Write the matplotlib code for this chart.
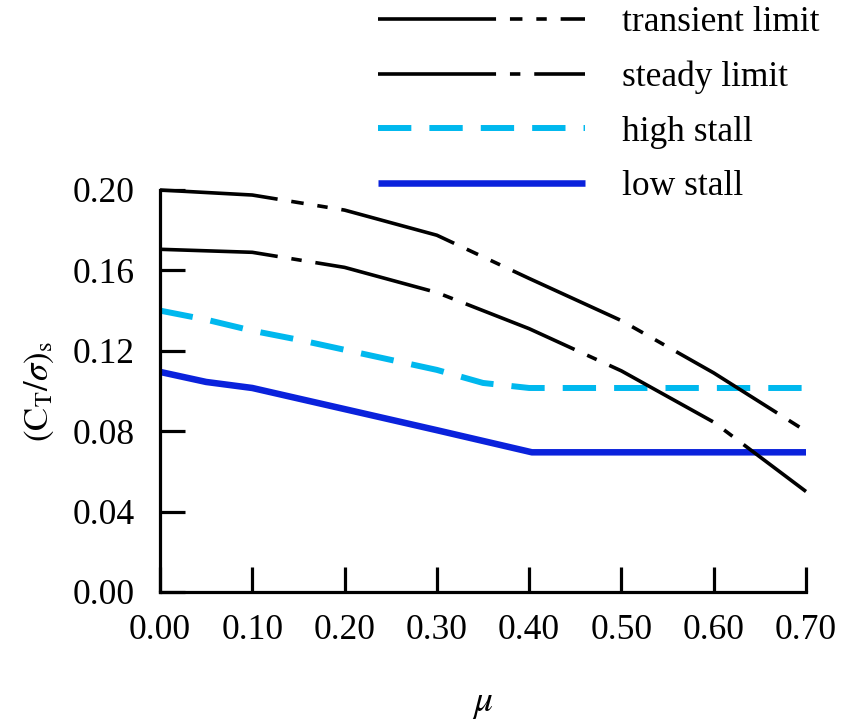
import matplotlib
matplotlib.use("Agg")
import matplotlib.pyplot as plt

# values
mu_transient = [0.0, 0.1, 0.2, 0.3, 0.4, 0.5, 0.6, 0.7]
ct_transient = [0.200, 0.1975, 0.190, 0.1775, 0.156, 0.135, 0.109, 0.080]

mu_steady = [0.0, 0.1, 0.2, 0.3, 0.4, 0.5, 0.6, 0.7]
ct_steady = [0.1705, 0.169, 0.1615, 0.149, 0.131, 0.110, 0.0845, 0.050]

mu_high = [0.0, 0.05, 0.1, 0.15, 0.2, 0.25, 0.3, 0.35, 0.4, 0.7]
ct_high = [0.140, 0.1355, 0.130, 0.1255, 0.1205, 0.1155, 0.1105, 0.104, 0.1015, 0.1015]

mu_low = [0.0, 0.05, 0.1, 0.2, 0.3, 0.403, 0.7]
ct_low = [0.1095, 0.1045, 0.1015, 0.091, 0.0805, 0.0695, 0.0695]

xticks = [0.0, 0.1, 0.2, 0.3, 0.4, 0.5, 0.6, 0.7]
yticks = [0.0, 0.04, 0.08, 0.12, 0.16, 0.20]

plt.rcParams['font.family'] = ['Liberation Serif', 'DejaVu Serif']
plt.rcParams['mathtext.fontset'] = 'stix'
plt.rcParams['lines.scale_dashes'] = False

fs = 25.5

fig = plt.figure(figsize=(8.41, 7.23), dpi=100)
ax = fig.add_axes([160 / 841, 1 - 592 / 723, 646 / 841, 402 / 723])

low, = ax.plot(mu_low, ct_low, color='#0a22dc', lw=4.7, label='low stall',
               clip_on=False, solid_capstyle='butt')
high, = ax.plot(mu_high, ct_high, color='#00b8ee', lw=4.3, label='high stall',
                clip_on=False, dashes=(24, 13), dash_capstyle='butt')
steady, = ax.plot(mu_steady, ct_steady, color='black', lw=2.6, label='steady limit',
                  clip_on=False, dashes=(85, 10, 7.5, 10))
trans, = ax.plot(mu_transient, ct_transient, color='black', lw=2.6,
                 label='transient limit', clip_on=False,
                 dashes=(85, 10, 9, 10, 7.5, 10))

ax.set_xlim(0, 0.7)
ax.set_ylim(0, 0.2)
ax.set_xticks(xticks)
ax.set_yticks(yticks)
ax.set_xticklabels(['%.2f' % v for v in xticks])
ax.set_yticklabels(['%.2f' % v for v in yticks])

ax.spines['right'].set_visible(False)
ax.spines['top'].set_visible(False)
ax.spines['left'].set_linewidth(2.3)
ax.spines['bottom'].set_linewidth(2.3)
ax.tick_params(axis='both', direction='in', length=18, width=2.3, labelsize=fs)
ax.tick_params(axis='y', pad=18)
ax.tick_params(axis='x', pad=16)

ax.set_xlabel(r'$\mu$', fontsize=27, labelpad=28)
ax.set_ylabel(r'$(\mathrm{C_T}/\sigma)_\mathrm{s}$', fontsize=25, labelpad=12)

ax.legend(handles=[trans, steady, high, low], loc='upper left',
          bbox_to_anchor=(378 / 841, 1 - 6 / 723), bbox_transform=fig.transFigure,
          frameon=False, fontsize=fs, handlelength=5.85, handletextpad=1.05,
          labelspacing=0.61, borderpad=0, borderaxespad=0)

fig.savefig('out.png', dpi=100)
